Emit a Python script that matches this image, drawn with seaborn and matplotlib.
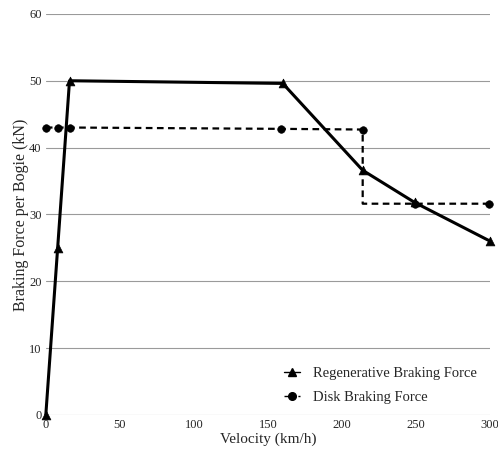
import numpy as np
import matplotlib
matplotlib.use("Agg")
import matplotlib.pyplot as plt
from matplotlib.lines import Line2D
import seaborn as sns

# regenerative braking force (triangles)
regen_v = [0, 8, 16, 160, 214, 249, 300]
regen_f = [0, 25, 50, 49.6, 36.6, 31.8, 26.0]

# disk braking force (circles); the corner at the step has no marker
disk_v = [0, 8, 16, 159, 214, 214, 249, 299]
disk_f = [43, 43, 43, 42.8, 42.7, 31.6, 31.6, 31.6]
disk_marked = [0, 1, 2, 3, 4, 6, 7]

xticks = [0, 50, 100, 150, 200, 250, 300]
yticks = [0, 10, 20, 30, 40, 50, 60]

sns.set_theme(style="white")
plt.rcParams['font.family'] = ['Liberation Serif', 'DejaVu Serif']

fig = plt.figure(figsize=(4.98, 4.49), dpi=100)
ax = fig.add_axes([0.092, 0.076, 0.892, 0.893])

for y in yticks:
    ax.axhline(y, color="#9a9a9a", lw=0.8, zorder=0)

dash = (0, (3, 2))
sns.lineplot(x=regen_v, y=regen_f, ax=ax, color="black", lw=2.2,
             sort=False, estimator=None, clip_on=False)
sns.scatterplot(x=regen_v, y=regen_f, ax=ax, color="black", marker="^",
                s=40, edgecolor="black", clip_on=False, zorder=3)
sns.lineplot(x=disk_v, y=disk_f, ax=ax, color="black", lw=1.6,
             linestyle=dash, sort=False, estimator=None, clip_on=False)
sns.scatterplot(x=[disk_v[i] for i in disk_marked],
                y=[disk_f[i] for i in disk_marked], ax=ax, color="black",
                marker="o", s=30, edgecolor="black", clip_on=False, zorder=3)

ax.set_xlim(0, 300)
ax.set_ylim(0, 60)
ax.set_xticks(xticks)
ax.set_yticks(yticks)
ax.tick_params(axis="both", length=0, labelsize=9, pad=3)
for s in ax.spines.values():
    s.set_visible(False)

ax.set_xlabel("Velocity (km/h)", fontsize=11, labelpad=1)
ax.set_ylabel("Braking Force per Bogie (kN)", fontsize=11.5, labelpad=0)

handles = [
    Line2D([], [], color="black", lw=1.0, marker="^", markersize=6),
    Line2D([], [], color="black", lw=1.0, linestyle=dash, marker="o", markersize=5.5),
]
ax.legend(handles, ["Regenerative Braking Force", "Disk Braking Force"],
          loc="lower right", bbox_to_anchor=(1.0, -0.005), frameon=False,
          fontsize=10.5, handlelength=1.1, handletextpad=0.9, labelspacing=0.75)

fig.savefig("out.png", dpi=100)
